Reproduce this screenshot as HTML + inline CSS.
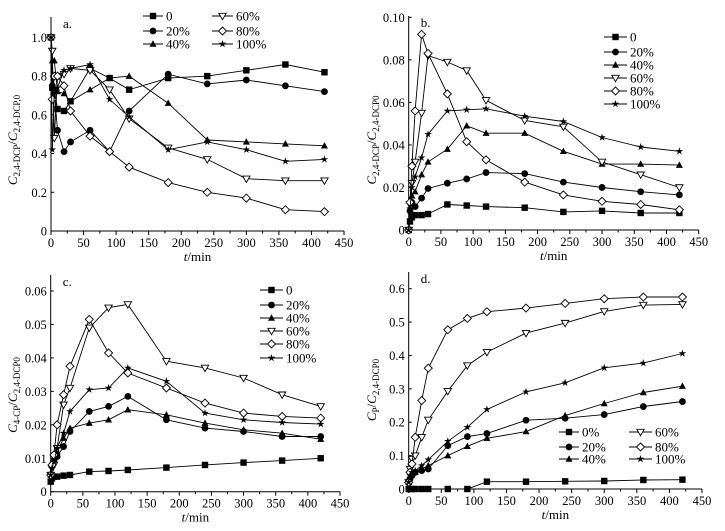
<!DOCTYPE html>
<html><head><meta charset="utf-8"><style>
html,body{margin:0;padding:0;background:#fff;}
svg{display:block;}
svg text{font-family:"Liberation Serif","Times New Roman",serif;}
</style></head><body>
<svg id="c" width="725" height="531" viewBox="0 0 725 531" xmlns="http://www.w3.org/2000/svg" font-family="Liberation Serif, serif"></svg>
<script>
const times = [0,2,5,10,20,30,60,90,120,180,240,300,360,420];
const seriesNames = ["0","20%","40%","60%","80%","100%"];
const markers = ["square","circle","triangle","tridown","diamond","star"];
// Panel a
const a0   = [1.0,0.74,0.73,0.63,0.62,0.67,0.84,0.79,0.73,0.79,0.80,0.83,0.86,0.82];
const a20  = [1.0,0.75,0.72,0.52,0.41,0.46,0.52,0.41,0.62,0.81,0.76,0.78,0.75,0.72];
const a40  = [1.0,0.88,0.88,0.72,0.71,0.67,0.73,0.79,0.80,0.66,0.47,0.46,0.45,0.44];
const a60  = [1.0,0.93,0.48,0.80,0.81,0.84,0.83,0.73,0.58,0.43,0.37,0.27,0.26,0.26];
const a80  = [1.0,0.68,0.80,0.80,0.75,0.62,0.49,0.41,0.33,0.25,0.20,0.17,0.11,0.10];
const a100 = [1.0,0.42,0.72,0.74,0.83,0.84,0.86,0.68,0.59,0.42,0.46,0.42,0.36,0.37];
const aTicks = [0,0.2,0.4,0.6,0.8,1.0];
const aTickLabels = ["0","0.2","0.4","0.6","0.8","1.0"];
// Panel b
const b0   = [0,0.004,0.006,0.007,0.007,0.0075,0.012,0.0115,0.011,0.0105,0.0085,0.009,0.008,0.008];
const b20  = [0,0.009,0.013,0.011,0.015,0.0195,0.022,0.024,0.027,0.0265,0.0225,0.020,0.018,0.0165];
const b40  = [0,0.010,0.016,0.018,0.026,0.032,0.038,0.049,0.0455,0.0455,0.037,0.031,0.031,0.0305];
const b60  = [0,0.012,0.022,0.032,0.055,0.082,0.079,0.075,0.061,0.0515,0.0485,0.032,0.026,0.020];
const b80  = [0,0.013,0.030,0.056,0.092,0.083,0.064,0.0415,0.033,0.0225,0.0165,0.0135,0.012,0.0095];
const b100 = [0,0.010,0.020,0.025,0.034,0.045,0.056,0.0565,0.057,0.0535,0.051,0.0435,0.039,0.037];
const bTicks = [0,0.02,0.04,0.06,0.08,0.10];
const bTickLabels = ["0","0.02","0.04","0.06","0.08","0.10"];
// Panel c
const c0   = [0.003,0.004,0.0045,0.0045,0.0048,0.005,0.006,0.0062,0.0065,0.0072,0.008,0.0087,0.0093,0.010];
const c20  = [0.005,0.008,0.009,0.0105,0.0135,0.018,0.024,0.0255,0.0285,0.0215,0.019,0.018,0.0165,0.0165];
const c40  = [0.005,0.008,0.010,0.012,0.016,0.019,0.0205,0.0215,0.0245,0.023,0.0205,0.0185,0.0175,0.0157];
const c60  = [0.005,0.007,0.008,0.013,0.026,0.031,0.049,0.055,0.056,0.039,0.037,0.034,0.029,0.0255];
const c80  = [0.005,0.008,0.011,0.020,0.029,0.0375,0.0515,0.0415,0.0355,0.031,0.0265,0.0235,0.0225,0.022];
const c100 = [0.005,0.007,0.009,0.013,0.0175,0.024,0.0305,0.031,0.037,0.033,0.0235,0.0215,0.0207,0.0202];
const cTicks = [0,0.01,0.02,0.03,0.04,0.05,0.06];
const cTickLabels = ["0","0.01","0.02","0.03","0.04","0.05","0.06"];
// Panel d
const d0   = [0,0,0,0,0,0,0,0,0.022,0.022,0.023,0.024,0.027,0.028];
const d20  = [0.02,0.03,0.04,0.05,0.055,0.06,0.13,0.157,0.166,0.206,0.212,0.223,0.247,0.262];
const d40  = [0.02,0.04,0.045,0.05,0.06,0.07,0.10,0.128,0.152,0.172,0.22,0.256,0.289,0.308];
const d60  = [0.02,0.06,0.09,0.10,0.155,0.207,0.293,0.37,0.41,0.467,0.497,0.532,0.551,0.553];
const d80  = [0.02,0.05,0.075,0.155,0.265,0.362,0.477,0.511,0.531,0.542,0.556,0.570,0.575,0.575];
const d100 = [0.02,0.04,0.05,0.055,0.07,0.088,0.143,0.185,0.238,0.291,0.318,0.363,0.377,0.406];
const dTicks = [0,0.1,0.2,0.3,0.4,0.5,0.6];
const dTickLabels = ["0","0.1","0.2","0.3","0.4","0.5","0.6"];
const xTicks = [0,50,100,150,200,250,300,350,400,450];
const xTickLabels = ["0","50","100","150","200","250","300","350","400","450"];

const NS="http://www.w3.org/2000/svg";
const svg=document.getElementById('c');
function mk(tag,attrs,parent){const e=document.createElementNS(NS,tag);for(const k in attrs)e.setAttribute(k,attrs[k]);(parent||svg).appendChild(e);return e;}

function marker(g,type,x,y){
  const r=3.2;let e;
  if(type==="square"){e=mk('rect',{x:x-r,y:y-r,width:2*r,height:2*r,fill:'#000'},g);}
  else if(type==="circle"){e=mk('circle',{cx:x,cy:y,r:r+0.2,fill:'#000'},g);}
  else if(type==="triangle"){e=mk('polygon',{points:`${x},${y-r-0.5} ${x-r-0.3},${y+r-0.5} ${x+r+0.3},${y+r-0.5}`,fill:'#000'},g);}
  else if(type==="tridown"){e=mk('polygon',{points:`${x-r-0.5},${y-r+0.5} ${x+r+0.5},${y-r+0.5} ${x},${y+r+0.5}`,fill:'#fff',stroke:'#000','stroke-width':0.9},g);}
  else if(type==="diamond"){e=mk('polygon',{points:`${x},${y-r-0.8} ${x+r+0.8},${y} ${x},${y+r+0.8} ${x-r-0.8},${y}`,fill:'#fff',stroke:'#000','stroke-width':0.9},g);}
  else {let p=[];for(let i=0;i<10;i++){const rr=i%2?1.5:r+0.8;const an=-Math.PI/2+i*Math.PI/5;p.push((x+rr*Math.cos(an)).toFixed(1)+','+(y+rr*Math.sin(an)).toFixed(1));}e=mk('polygon',{points:p.join(' '),fill:'#000'},g);}
  
  
}

function panel(p){
  const g=mk('g',{});
  
  
  const X=v=>p.x0+(v/450)*(p.x1-p.x0);
  const Y=v=>p.y0-(v/p.ymax)*(p.y0-p.y1);
  const ax=mk('path',{d:`M${p.x0},${p.ytop} V${p.y0} H${p.x1}`,fill:'none',stroke:'#000','stroke-width':1},g);
  
  
  xTicks.forEach((t,i)=>{
    const x=X(t);
    mk('line',{x1:x,y1:p.y0,x2:x,y2:p.y0+4,stroke:'#000'},g);
    if(i<xTicks.length-1) mk('line',{x1:X(t+25),y1:p.y0,x2:X(t+25),y2:p.y0+2.5,stroke:'#000'},g);
    const tx=mk('text',{x:x,y:p.y0+16,'font-size':12.5,'text-anchor':'middle'},g);
    tx.textContent=xTickLabels[i];
    
    
  });
  p.ticks.forEach((t,i)=>{
    const y=Y(t);
    mk('line',{x1:p.x0,y1:y,x2:p.x0+3,y2:y,stroke:'#000'},g);
    const tx=mk('text',{x:p.x0-4,y:y+4.5,'font-size':12.5,'text-anchor':'end'},g);
    tx.textContent=p.labels[i];
    
    
  });
  const xt=mk('text',{x:(p.x0+p.x1)/2,y:p.y0+30,'font-size':13,'text-anchor':'middle'},g);
  xt.innerHTML='<tspan font-style="italic">t</tspan>/min';
  
  
  const yt=mk('text',{transform:`translate(${p.ylx},${p.yly}) rotate(-90)`,'font-size':13,'text-anchor':'middle'},g);
  yt.innerHTML=p.ytitle;
  
  
  const pl=mk('text',{x:p.x0+12,y:p.ytop+11,'font-size':13},g);
  pl.textContent=p.id+'.';
  
  
  p.series.forEach((s,si)=>{
    const sg=mk('g',{},g);
    
    
    const pts=times.map((t,i)=>X(t).toFixed(1)+','+Y(s[i]).toFixed(1)).join(' ');
    mk('polyline',{points:pts,fill:'none',stroke:'#000','stroke-width':0.9},sg);
    times.forEach((t,i)=>marker(sg,markers[si],X(t),Y(s[i])));
  });
  p.legend.forEach((L,si)=>{
    const lg=mk('g',{},g);
    
    
    mk('line',{x1:L[0],y1:L[2],x2:L[1],y2:L[2],stroke:'#000','stroke-width':0.9},lg);
    marker(lg,markers[si],(L[0]+L[1])/2,L[2]);
    const t=mk('text',{x:L[1]+3,y:L[2]+4.5,'font-size':13},lg);
    t.textContent=p.names?p.names[si]:seriesNames[si];
  });
}

panel({id:'a',x0:51,x1:344,y0:231,y1:37.4,ymax:1.0,ytop:17,ticks:aTicks,labels:aTickLabels,
  series:[a0,a20,a40,a60,a80,a100],ylx:17,yly:140,
  ytitle:'<tspan font-style="italic">C</tspan><tspan font-size="9" dy="3">2,4-DCP</tspan><tspan dy="-3">/</tspan><tspan font-style="italic">C</tspan><tspan font-size="9" dy="3">2,4-DCP,0</tspan>',
  legend:[[143,163,16],[143,163,31],[143,163,44],[212,233,16],[212,233,31],[212,233,44]]});
panel({id:'b',x0:408.7,x1:698.7,y0:230,y1:17.3,ymax:0.10,ytop:16,ticks:bTicks,labels:bTickLabels,
  series:[b0,b20,b40,b60,b80,b100],ylx:376,yly:140,
  ytitle:'<tspan font-style="italic">C</tspan><tspan font-size="9" dy="3">2,4-DCP</tspan><tspan dy="-3">/</tspan><tspan font-style="italic">C</tspan><tspan font-size="9" dy="3">2,4-DCP0</tspan>',
  legend:[[604,627,37],[604,627,52],[604,627,65],[604,627,78],[604,627,91],[604,627,104]]});
panel({id:'c',x0:50.7,x1:340,y0:491.7,y1:291,ymax:0.06,ytop:275,ticks:cTicks,labels:cTickLabels,
  series:[c0,c20,c40,c60,c80,c100],ylx:17,yly:395,
  ytitle:'<tspan font-style="italic">C</tspan><tspan font-size="9" dy="3">4-CP</tspan><tspan dy="-3">/</tspan><tspan font-style="italic">C</tspan><tspan font-size="9" dy="3">2,4-DCP0</tspan>',
  legend:[[260,283,290],[260,283,305],[260,283,318],[260,283,331],[260,283,344],[260,283,358]]});
panel({id:'d',x0:408.7,x1:702,y0:489,y1:288.7,ymax:0.6,ytop:272,ticks:dTicks,labels:dTickLabels,
  series:[d0,d20,d40,d60,d80,d100],ylx:376,yly:390,names:["0%","20%","40%","60%","80%","100%"],
  ytitle:'<tspan font-style="italic">C</tspan><tspan font-size="9" dy="3">P</tspan><tspan dy="-3">/</tspan><tspan font-style="italic">C</tspan><tspan font-size="9" dy="3">2,4-DCP0</tspan>',
  legend:[[559,579,432],[559,579,447],[559,579,459],[629,652,432],[629,652,447],[629,652,459]]});
</script>
</body></html>
